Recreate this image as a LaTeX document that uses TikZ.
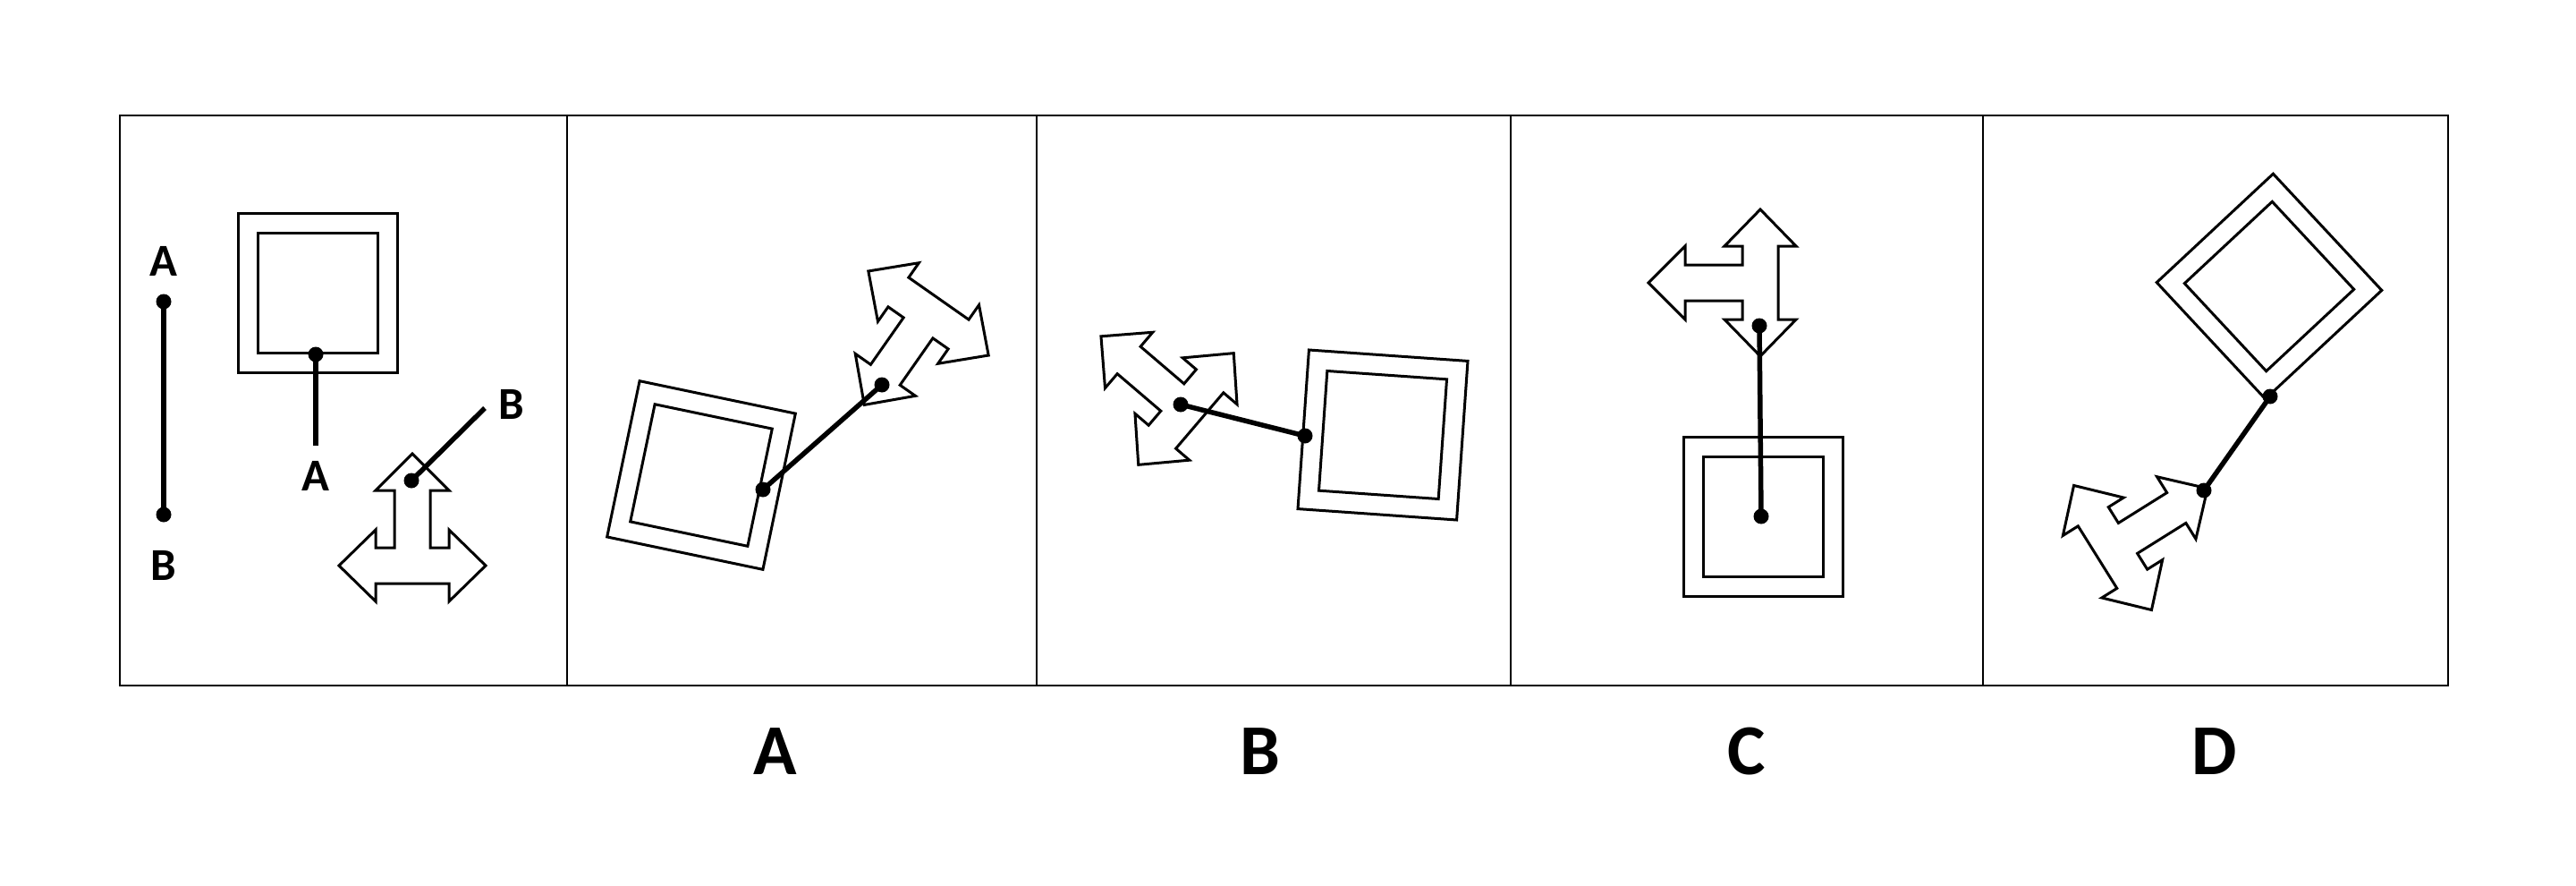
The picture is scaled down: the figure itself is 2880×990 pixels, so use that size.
\documentclass[tikz,border=0pt]{standalone}
\usepackage{fontspec}
\setmainfont{Carlito}
\begin{document}
\begin{tikzpicture}[x=1pt,y=-1pt,
  shp/.style={draw=black,line width=3pt,line join=miter,fill=white},
  frm/.style={draw=black,line width=2pt},
  conn/.style={line width=5.5pt},
  dotc/.style={fill=black},
  lbl/.style={font=\fontsize{51}{51}\bfseries\selectfont,inner sep=0pt},
  blbl/.style={font=\fontsize{80}{80}\bfseries\selectfont,inner sep=0pt}]
\useasboundingbox (0,0) rectangle (2880,990);
\newcommand{\tarrow}{\draw[shp] (-82,0) -- (-41,-40) -- (-41,-20) -- (-20,-20) -- (-20,-84) -- (-41,-84) -- (0,-125) -- (41,-84) -- (20,-84) -- (20,-20) -- (41,-20) -- (41,-40) -- (82,0) -- (41,40) -- (41,20) -- (-41,20) -- (-41,40) -- cycle;}
\newcommand{\dsquare}{\draw[shp] (-89,-89) rectangle (89,89); \draw[shp] (-67,-67) rectangle (67,67);}
% frame
\draw[frm] (134,129) rectangle (2737,766);
\foreach \x in {634,1159,1689,2217} \draw[frm] (\x,129) -- (\x,766);
% panel 0
\coordinate (la) at (183,337); \coordinate (lb) at (183,575);
\draw[conn] (la) -- (lb);
\fill[dotc] (la) circle (8.5); \fill[dotc] (lb) circle (8.5);
\node[lbl] (tA1) at (183,292) {A};
\node[lbl] (tB1) at (183,632) {B};
\begin{scope}[shift={(355,327)}] \dsquare \end{scope}
\coordinate (s0) at (353,396); \coordinate (s0e) at (353,498);
\draw[conn] (s0) -- (s0e); \fill[dotc] (s0) circle (8.5);
\node[lbl] (tA2) at (353,532) {A};
\begin{scope}[shift={(461,632)}] \tarrow \end{scope}
\coordinate (a0) at (460,537); \coordinate (a0e) at (542,456);
\draw[conn] (a0) -- (a0e); \fill[dotc] (a0) circle (8.5);
\node[lbl] (tB2) at (572,452) {B};
% panel A
\begin{scope}[shift={(784,531)},rotate=-11.8] \dsquare \end{scope}
\begin{scope}[shift={(1038,350)},rotate=145] \tarrow \end{scope}
\coordinate (sA) at (853,547); \coordinate (aA) at (986,430);
\draw[conn] (sA) -- (aA); \fill[dotc] (sA) circle (8.5); \fill[dotc] (aA) circle (8.5);
% panel B
\begin{scope}[shift={(1546,486)},rotate=-4] \dsquare \end{scope}
\begin{scope}[shift={(1326,457)},rotate=49.5] \tarrow \end{scope}
\coordinate (sB) at (1459,487); \coordinate (aB) at (1320,452);
\draw[conn] (sB) -- (aB); \fill[dotc] (sB) circle (8.5); \fill[dotc] (aB) circle (8.5);
% panel C
\begin{scope}[shift={(1971,577)}] \dsquare \end{scope}
\begin{scope}[shift={(1968,316)},rotate=90] \tarrow \end{scope}
\coordinate (sC) at (1969,577); \coordinate (aC) at (1967,364);
\draw[conn] (sC) -- (aC); \fill[dotc] (sC) circle (8.5); \fill[dotc] (aC) circle (8.5);
% panel D
\begin{scope}[shift={(2537,320)},rotate=43] \dsquare \end{scope}
\begin{scope}[shift={(2362,612)},rotate=-58] \tarrow \end{scope}
\coordinate (sD) at (2538,443); \coordinate (aD) at (2464,548);
\draw[conn] (sD) -- (aD); \fill[dotc] (sD) circle (8.5); \fill[dotc] (aD) circle (8.5);
% bottom labels
\node[blbl] (lA) at (867,840) {A};
\node[blbl] (lB) at (1409,840) {B};
\node[blbl] (lC) at (1953,840) {C};
\node[blbl] (lD) at (2476,840) {D};
\end{tikzpicture}
\end{document}
